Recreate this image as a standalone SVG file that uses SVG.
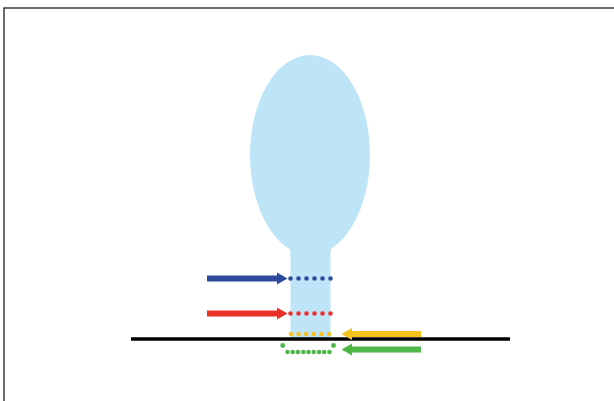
<svg xmlns="http://www.w3.org/2000/svg" width="614" height="401" viewBox="0 0 614 401">
<style>
.frame{fill:none;stroke:#3a3a3a;stroke-width:1.5}
.body{fill:#BEE5F7}
.dots{stroke-width:4.6;stroke-linecap:round;fill:none}
.blue{stroke:#2D4A9D;fill:#2D4A9D}
.red{stroke:#E8322A;fill:#E8322A}
.yellow{stroke:#F6C21E;fill:#F6C21E}
.green{stroke:#4DB748;fill:#4DB748}
.arrow{stroke:none}
</style>
<rect width="614" height="401" fill="#fff"/>
<path class="frame" d="M4,401 V8 H614"/>
<g id="cell">
<ellipse class="body" cx="310" cy="155" rx="60" ry="100"/>
<path class="body" d="M290.5,338 V252 Q290.5,248 286,244 L334,244 Q330.5,248 330.5,252 V338 Z"/>
</g>
<g id="membrane">
<line x1="131" y1="339" x2="510" y2="339" stroke="#000" stroke-width="3.5"/>
</g>
<g id="connectors">
<g id="blue-arrow">
<path class="arrow blue" d="M207,275.5 H277 V272.5 L287.5,278.5 L277,284.5 V281.5 H207 Z"/>
<path class="dots blue" d="M290.5,278.5 H331" stroke-dasharray="0 8"/>
</g>
<g id="red-arrow">
<path class="arrow red" d="M207,310.5 H277 V307.5 L287.5,313.5 L277,319.5 V316.5 H207 Z"/>
<path class="dots red" d="M290.5,313.5 H331" stroke-dasharray="0 8"/>
</g>
<g id="yellow-arrow">
<path class="arrow yellow" d="M421,331 H352 V328 L341.5,334 L352,340 V337 H421 Z"/>
<path class="dots yellow" d="M291,334 H331" stroke-dasharray="0 7.6"/>
</g>
<g id="green-arrow">
<path class="arrow green" d="M421,346.5 H352 V343.5 L341.5,349.5 L352,355.5 V352.5 H421 Z"/>
<path class="dots green" d="M287.5,352 H330" stroke-dasharray="0 5.25" stroke-width="4.6"/>
<circle class="green arrow" cx="282.7" cy="345.5" r="2.4"/>
<circle class="green arrow" cx="333.5" cy="345.5" r="2.4"/>
</g>
</g>
</svg>
